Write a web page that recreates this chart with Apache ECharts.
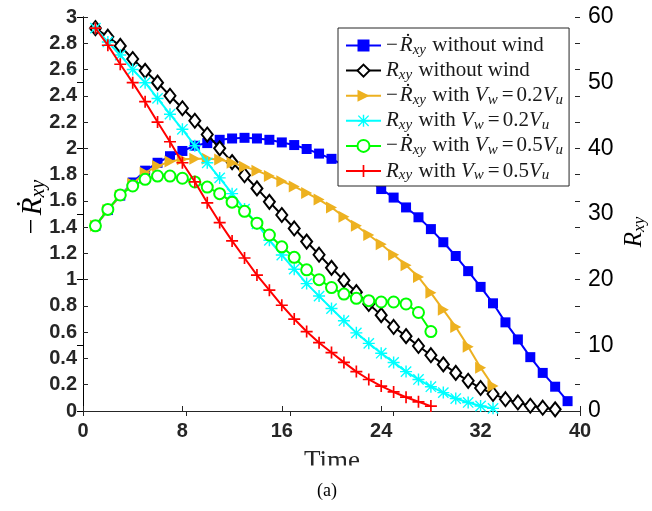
<!DOCTYPE html>
<html>
<head>
<meta charset="utf-8">
<script src="https://cdn.jsdelivr.net/npm/echarts@6/dist/echarts.min.js"></script>
<style>
html,body{margin:0;padding:0;background:#fff;}
#chart{width:652px;height:511px;}
</style>
</head>
<body>
<div id="chart"></div>
<script>
// ---- data ----
const timeSteps = [1,2,3,4,5,6,7,8,9,10,11,12,13,14,15,16,17,18,19,20,21,22,23,24,25,26,27,28,29,30,31,32,33,34,35,36,37,38,39];
const xTicks = [0, 8, 16, 24, 32, 40];
const leftTicks = [0, 0.2, 0.4, 0.6, 0.8, 1, 1.2, 1.4, 1.6, 1.8, 2, 2.2, 2.4, 2.6, 2.8, 3];
const rightTicks = [0, 10, 20, 30, 40, 50, 60];

// -Rdot without wind (left axis)
const rdotNoWind = [1.41, 1.53, 1.64, 1.74, 1.83, 1.89, 1.94, 1.98, 2.02, 2.04, 2.065, 2.075, 2.08, 2.075, 2.065, 2.045, 2.025, 1.995, 1.96, 1.92, 1.87, 1.82, 1.76, 1.69, 1.625, 1.55, 1.475, 1.385, 1.285, 1.18, 1.065, 0.945, 0.82, 0.675, 0.545, 0.41, 0.29, 0.185, 0.075];
// R without wind (right axis)
const rNoWind = [58.3, 57.0, 55.6, 53.6, 51.8, 50.0, 48.0, 46.1, 44.2, 42.1, 40.0, 37.9, 35.9, 33.9, 31.85, 29.85, 27.8, 25.8, 23.8, 21.8, 19.9, 18.1, 16.3, 14.6, 12.8, 11.4, 9.9, 8.5, 7.1, 5.8, 4.6, 3.5, 2.6, 1.8, 1.3, 0.8, 0.5, 0.25];
// -Rdot with Vw=0.2Vu (left axis)
const rdotW02 = [1.41, 1.53, 1.64, 1.73, 1.815, 1.865, 1.9, 1.917, 1.92, 1.92, 1.915, 1.89, 1.86, 1.83, 1.79, 1.75, 1.71, 1.66, 1.61, 1.55, 1.48, 1.41, 1.34, 1.27, 1.19, 1.11, 1.02, 0.9, 0.77, 0.64, 0.49, 0.33, 0.19];
// R with Vw=0.2Vu (right axis)
const rW02 = [58.3, 56.2, 54.2, 52.0, 50.0, 47.6, 45.2, 42.9, 40.4, 37.8, 35.5, 33.1, 30.75, 28.5, 26.0, 23.75, 21.6, 19.4, 17.5, 15.6, 13.75, 11.9, 10.3, 8.8, 7.4, 6.0, 4.8, 3.7, 2.8, 1.9, 1.3, 0.76, 0.4];
// -Rdot with Vw=0.5Vu (left axis)
const rdotW05 = [1.41, 1.535, 1.645, 1.713, 1.764, 1.789, 1.789, 1.772, 1.744, 1.705, 1.655, 1.59, 1.52, 1.43, 1.34, 1.25, 1.17, 1.075, 1.0, 0.94, 0.89, 0.858, 0.84, 0.83, 0.83, 0.815, 0.75, 0.605];
// R with Vw=0.5Vu (right axis)
const rW05 = [58.3, 55.7, 52.8, 50.0, 47.1, 44.0, 41.0, 37.8, 34.9, 31.7, 28.7, 25.9, 23.3, 20.7, 18.4, 16.1, 14.0, 12.1, 10.4, 8.9, 7.4, 6.0, 4.8, 3.8, 2.9, 2.1, 1.4, 0.75];

const seriesNames = ['rdotNoWind', 'rNoWind', 'rdotW02', 'rW02', 'rdotW05', 'rW05'];
const legendRich = {
  rdotNoWind: '{m|−}{r|Ṙ}{s|xy}{t| without wind}',
  rNoWind: '{r|R}{s|xy}{t| without wind}',
  rdotW02: '{m|−}{r|Ṙ}{s|xy}{t| with }{r|V}{s|w}{e|=}{t|0.2}{r|V}{s|u}',
  rW02: '{r|R}{s|xy}{t| with }{r|V}{s|w}{e|=}{t|0.2}{r|V}{s|u}',
  rdotW05: '{m|−}{r|Ṙ}{s|xy}{t| with }{r|V}{s|w}{e|=}{t|0.5}{r|V}{s|u}',
  rW05: '{r|R}{s|xy}{t| with }{r|V}{s|w}{e|=}{t|0.5}{r|V}{s|u}'
};

function pairs(vals) { return vals.map((v, i) => [timeSteps[i], v]); }

const SERIF = '"Liberation Serif","DejaVu Serif",serif';
const SANS = '"Liberation Sans",Arial,Helvetica,sans-serif';

const starPath = 'path://M4.4,0h1.2v10h-1.2z M0,4.4h10v1.2h-10z M0.3,1.1l0.8,-0.8l8.6,8.6l-0.8,0.8z M0.3,8.9l8.6,-8.6l0.8,0.8l-8.6,8.6z';
const plusPath = 'path://M4.3,0h1.4v10h-1.4z M0,4.3h10v1.4h-10z';
const triPath = 'path://M0,0L10,5L0,10z';

const LC = '#1a1a1a';
const richStyles = {
  m: {fontFamily: SERIF, fontSize: 21, color: LC, lineHeight: 24, padding: [0, 2, 0, 0]},
  r: {fontFamily: SERIF, fontStyle: 'italic', fontSize: 21, color: LC, lineHeight: 24},
  s: {fontFamily: SERIF, fontStyle: 'italic', fontSize: 15, color: LC, lineHeight: 14, verticalAlign: 'bottom', padding: [0, 1, 0, 0]},
  e: {fontFamily: SERIF, fontSize: 21, color: LC, lineHeight: 24, padding: [0, 3, 0, 3]},
  t: {fontFamily: SERIF, fontSize: 21, color: LC, lineHeight: 24}
};

const chart = echarts.init(document.getElementById('chart'), null, {renderer: 'canvas'});

const option = {
  animation: false,
  backgroundColor: '#fff',
  grid: {left: 83, right: 72, top: 17, bottom: 100, containLabel: false},
  legend: {
    orient: 'vertical',
    left: 338, top: 28,
    padding: [7, 5, 3, 7],
    itemGap: 2.6,
    itemWidth: 35, itemHeight: 15,
    backgroundColor: '#fff',
    borderColor: '#262626', borderWidth: 1,
    data: seriesNames,
    formatter: name => legendRich[name],
    textStyle: {rich: richStyles, padding: [0, 0, 0, 0]}
  },
  xAxis: [{
    type: 'value', position: 'bottom', min: 0, max: 40, interval: 8,
    axisLine: {show: true, lineStyle: {color: '#262626', width: 1}},
    axisTick: {show: true, inside: true, length: 5, lineStyle: {color: '#262626'}},
    axisLabel: {show: true, margin: 10, fontFamily: SANS, fontWeight: 'bold', fontSize: 20, color: '#262626',
      formatter: v => xTicks.indexOf(v) >= 0 ? String(v) : ''},
    splitLine: {show: false}
  }, {
    type: 'value', position: 'top', min: 0, max: 38.4, interval: 8,
    axisLine: {show: true, lineStyle: {color: '#262626', width: 1}},
    axisTick: {show: true, inside: true, length: 5, lineStyle: {color: '#262626'}},
    axisLabel: {show: false}, splitLine: {show: false}
  }],
  yAxis: [{
    type: 'value', position: 'left', min: 0, max: 3, interval: 0.2,
    axisLine: {show: true, lineStyle: {color: '#262626', width: 1}},
    axisTick: {show: true, inside: true, length: 5, lineStyle: {color: '#262626'}},
    axisLabel: {show: true, margin: 6, fontFamily: SANS, fontWeight: 'bold', fontSize: 20, color: '#262626',
      formatter: v => { const f = leftTicks.find(t => Math.abs(t - v) < 1e-9); return f === undefined ? '' : String(f); }},
    splitLine: {show: false}
  }, {
    type: 'value', position: 'right', min: 0, max: 60, interval: 10,
    axisLine: {show: true, lineStyle: {color: '#000', width: 1}},
    axisTick: {show: true, inside: true, length: 6, lineStyle: {color: '#000'}},
    axisLabel: {show: true, margin: 8, fontFamily: SANS, fontSize: 23, color: '#000',
      formatter: v => rightTicks.indexOf(v) >= 0 ? String(v) : ''},
    splitLine: {show: false}
  }, {
    type: 'value', position: 'right', min: 0, max: 3, interval: 0.2,
    axisLine: {show: false},
    axisTick: {show: true, inside: true, length: 5, lineStyle: {color: '#262626'}},
    axisLabel: {show: false}, splitLine: {show: false}
  }],
  series: [
    {name: 'rdotNoWind', type: 'line', xAxisIndex: 0, yAxisIndex: 0, data: pairs(rdotNoWind),
      symbol: 'rect', symbolSize: 10, lineStyle: {color: '#0000ff', width: 2},
      itemStyle: {color: '#0000ff'}, z: 2},
    {name: 'rNoWind', type: 'line', xAxisIndex: 0, yAxisIndex: 1, data: pairs(rNoWind),
      symbol: 'emptyDiamond', symbolSize: [11, 14], lineStyle: {color: '#000', width: 2},
      itemStyle: {color: '#000', borderWidth: 2}, z: 3},
    {name: 'rdotW02', type: 'line', xAxisIndex: 0, yAxisIndex: 0, data: pairs(rdotW02),
      symbol: triPath, symbolSize: [11, 12], lineStyle: {color: '#EDB120', width: 2},
      itemStyle: {color: '#EDB120'}, z: 4},
    {name: 'rW02', type: 'line', xAxisIndex: 0, yAxisIndex: 1, data: pairs(rW02),
      symbol: starPath, symbolSize: 12, lineStyle: {color: '#00ffff', width: 2},
      itemStyle: {color: '#00ffff'}, z: 5},
    {name: 'rdotW05', type: 'line', xAxisIndex: 0, yAxisIndex: 0, data: pairs(rdotW05),
      symbol: 'emptyCircle', symbolSize: 11, lineStyle: {color: '#00ff00', width: 2},
      itemStyle: {color: '#00ff00', borderWidth: 2}, z: 6},
    {name: 'rW05', type: 'line', xAxisIndex: 0, yAxisIndex: 1, data: pairs(rW05),
      symbol: plusPath, symbolSize: 12, lineStyle: {color: '#ff0000', width: 2},
      itemStyle: {color: '#ff0000'}, z: 7}
  ],
  graphic: [
    {type: 'text', x: 33, y: 207, rotation: Math.PI / 2, z: 10,
      style: {text: '{m|−}{r|Ṙ}{s|xy}', align: 'center', verticalAlign: 'middle',
        rich: {
          m: {fontFamily: SERIF, fontSize: 28, color: '#262626', lineHeight: 32, padding: [0, 3, 0, 0]},
          r: {fontFamily: SERIF, fontStyle: 'italic', fontSize: 29, color: '#262626', lineHeight: 32},
          s: {fontFamily: SERIF, fontStyle: 'italic', fontSize: 20, color: '#262626', lineHeight: 19, verticalAlign: 'bottom'}
        }}},
    {type: 'text', x: 634, y: 232, rotation: Math.PI / 2, z: 10,
      style: {text: '{r|R}{s|xy}', align: 'center', verticalAlign: 'middle',
        rich: {
          r: {fontFamily: SERIF, fontStyle: 'italic', fontSize: 25, color: '#262626', lineHeight: 28},
          s: {fontFamily: SERIF, fontStyle: 'italic', fontSize: 17, color: '#262626', lineHeight: 17, verticalAlign: 'bottom'}
        }}},
    {type: 'text', x: 332, y: 462, z: 10,
      style: {text: 'Time', align: 'center', verticalAlign: 'middle', fontFamily: SERIF, fontSize: 27, fill: '#262626'}},
    {type: 'rect', shape: {x: 280, y: 465.5, width: 110, height: 14}, z: 11, style: {fill: '#fff'}},
    {type: 'text', x: 327, y: 491, z: 10,
      style: {text: '(a)', align: 'center', verticalAlign: 'middle', fontFamily: SERIF, fontSize: 18, fill: '#000'}}
  ]
};
chart.setOption(option);
</script>
</body>
</html>
